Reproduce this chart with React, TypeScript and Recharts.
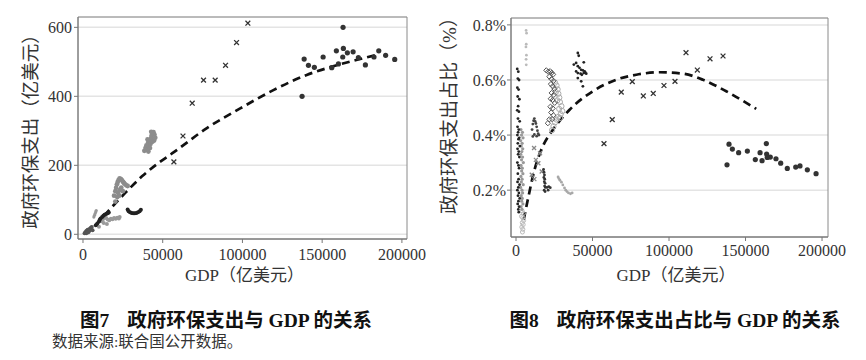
import React from 'react'
import { ComposedChart, Scatter, Line, XAxis, YAxis, CartesianGrid, ReferenceArea } from 'recharts'

type Pt = [number, number]

// ---- 图7: GDP (亿美元) vs 政府环保支出 (亿美元)
const spendUsa: Pt[] = [
  [137400, 400], [138700, 508], [141400, 490], [145100, 484], [150600, 514], [156000, 483],
  [158900, 532], [160200, 494], [163100, 600], [163300, 539], [162900, 514], [165800, 526],
  [169400, 529], [172700, 512], [177100, 491], [182500, 514], [185500, 532], [189800, 519], [195500, 507],
]
const spendChina: Pt[] = [
  [57000, 210], [62700, 285], [68500, 380], [75600, 447], [82900, 447], [89400, 490], [96300, 556], [103400, 612],
]
const spendJapan: Pt[] = [
  [38500, 242], [39200, 250], [39800, 258], [40400, 246], [40800, 265], [41300, 255], [41800, 270],
  [42300, 262], [42600, 278], [43000, 286], [43600, 292], [44200, 296], [44800, 289], [45300, 280],
  [44600, 272], [43500, 268], [42000, 250], [41000, 240], [42800, 297], [40500, 275],
]
const spendGermany: Pt[] = [
  [19500, 112], [20300, 125], [20800, 135], [21300, 145], [21800, 152], [22400, 158], [23000, 162],
  [23800, 160], [24500, 156], [25200, 152], [25800, 148], [26500, 145], [27200, 142], [28000, 140],
  [22000, 120], [23000, 128], [24000, 135], [21500, 108], [22800, 112], [25000, 125], [20300, 95],
]
const spendArc: Pt[] = [
  [28000, 72], [28600, 67], [29500, 64], [30500, 62], [31500, 61], [32500, 61], [33500, 62],
  [34500, 64], [35500, 67], [36300, 71],
]
const spendEarly: Pt[] = [
  [8000, 26], [9000, 31], [10000, 37], [10500, 42], [11000, 46], [12000, 50], [12800, 54],
  [13500, 57], [14500, 59], [15500, 61], [16200, 63],
]
const spendLow: Pt[] = [
  [11500, 38], [12500, 44], [13500, 49], [14500, 47], [15500, 43], [16500, 41], [17500, 45],
  [18500, 44], [19500, 47], [20500, 45], [21500, 48], [22500, 46], [23000, 50], [13000, 33],
  [15000, 30], [10000, 22],
]
const spendSlash: Pt[] = [[6800, 50], [7200, 55], [7600, 60], [8000, 65], [8300, 69]]
const spendOrigin: Pt[] = [
  [1000, 3], [1500, 6], [2000, 9], [2500, 11], [3000, 13], [3500, 7], [4000, 15], [4500, 17],
  [5000, 19], [2000, 3], [3000, 5], [4000, 10], [5500, 21], [6000, 12],
]
const spendTrend: Pt[] = [
  [7700, 25], [16000, 68], [26500, 120], [37000, 168], [47400, 207], [57000, 238], [77700, 308],
  [98600, 365], [119400, 418], [140300, 462], [159100, 490], [172000, 506], [186000, 522],
]
const spendTicks = [0, 200, 400, 600]

// ---- 图8: GDP (亿美元) vs 政府环保支出占比 (%)
const shareUsa: Pt[] = [
  [139200, 0.367], [137900, 0.292], [141400, 0.349], [145500, 0.336], [151200, 0.342], [156400, 0.311],
  [159500, 0.336], [160800, 0.307], [163600, 0.369], [163800, 0.331], [164200, 0.319], [166200, 0.32],
  [169900, 0.314], [173000, 0.298], [177300, 0.279], [182800, 0.284], [185600, 0.288], [190400, 0.274], [196100, 0.26],
]
const shareChina: Pt[] = [
  [57500, 0.369], [62900, 0.456], [68800, 0.556], [76000, 0.594], [83200, 0.542], [89700, 0.551],
  [96700, 0.58], [103900, 0.595], [111100, 0.699], [118500, 0.636], [126800, 0.677], [135300, 0.687],
]
const shareJapan: Pt[] = [
  [40400, 0.698], [41000, 0.688], [44300, 0.664], [39300, 0.662], [37800, 0.656], [40400, 0.65],
  [41500, 0.644], [42600, 0.637], [43700, 0.635], [44800, 0.631], [39300, 0.631], [40400, 0.625],
  [42200, 0.623], [43000, 0.619], [44300, 0.625], [45200, 0.628], [45900, 0.623], [40400, 0.607],
  [42600, 0.595], [43700, 0.577],
]
const shareDiamond: Pt[] = [
  [19800, 0.635], [21000, 0.63], [22300, 0.632], [23400, 0.626], [24300, 0.62], [21800, 0.612],
  [23200, 0.603], [24500, 0.597], [22800, 0.585], [24000, 0.577], [25100, 0.568], [23300, 0.553],
  [24700, 0.546], [22700, 0.532], [24000, 0.527], [25300, 0.517], [22500, 0.503], [24000, 0.497],
  [23000, 0.482], [24400, 0.472], [21800, 0.457], [20800, 0.443], [23600, 0.458],
]
const shareRing: Pt[] = [
  [25500, 0.59], [26500, 0.58], [27200, 0.566], [26000, 0.556], [27700, 0.55], [28300, 0.536],
  [27000, 0.526], [28700, 0.52], [29700, 0.505], [28200, 0.495], [30300, 0.487], [29200, 0.476],
  [27600, 0.466], [26500, 0.456], [25500, 0.446], [24500, 0.432], [23600, 0.418], [28800, 0.462],
]
const shareUk: Pt[] = [
  [27500, 0.248], [28000, 0.242], [28700, 0.236], [29700, 0.229], [30600, 0.219], [31700, 0.208],
  [32500, 0.2], [33300, 0.195], [34300, 0.19], [35600, 0.187], [36700, 0.19],
]
const shareMid: Pt[] = [
  [18000, 0.275], [18300, 0.265], [18600, 0.255], [18200, 0.246], [18800, 0.24], [18500, 0.231],
  [19000, 0.225], [18700, 0.215], [19200, 0.21], [18400, 0.2], [19000, 0.195], [20300, 0.21],
  [21400, 0.213], [22400, 0.209], [21000, 0.2],
]
const shareSmall: Pt[] = [
  [10500, 0.42], [11000, 0.44], [11500, 0.452], [12000, 0.46], [12500, 0.45], [13000, 0.442],
  [13500, 0.43], [14000, 0.416], [14500, 0.405], [15000, 0.4], [12000, 0.402], [11000, 0.395], [13500, 0.396],
]
const shareSmallX: Pt[] = [
  [10300, 0.256], [11800, 0.353], [14600, 0.298], [15700, 0.334], [16800, 0.268], [13000, 0.31], [12000, 0.24],
]
const shareHigh: Pt[] = [
  [6600, 0.78], [6900, 0.77], [6700, 0.73], [6500, 0.72], [6800, 0.69], [6600, 0.675], [6700, 0.655],
]
const shareDarkCol: Pt[] = [
  [800, 0.64], [1500, 0.63], [1200, 0.605], [2000, 0.6], [900, 0.572], [1700, 0.565], [1100, 0.54],
  [2200, 0.53], [1400, 0.505], [800, 0.49], [1900, 0.485], [1300, 0.46], [2400, 0.45], [1000, 0.43],
  [1800, 0.42], [1400, 0.41], [900, 0.4], [2100, 0.39], [1600, 0.385], [1200, 0.37], [2500, 0.36],
  [1000, 0.35], [1800, 0.34], [1400, 0.33], [2200, 0.32], [900, 0.3], [1600, 0.29], [2000, 0.28],
  [1200, 0.26], [1700, 0.24], [1000, 0.23], [2300, 0.22], [1500, 0.21], [900, 0.2], [1900, 0.19],
  [1300, 0.18], [2400, 0.17], [1600, 0.16], [1100, 0.15], [2000, 0.14], [1500, 0.13], [1800, 0.12],
]
const shareGrayCol: Pt[] = [
  [3200, 0.42], [4200, 0.41], [3600, 0.4], [4600, 0.39], [3000, 0.38], [4000, 0.37], [3400, 0.36],
  [4400, 0.35], [3800, 0.34], [3100, 0.33], [4300, 0.32], [3600, 0.31], [4800, 0.3], [3300, 0.29],
  [4100, 0.28], [3700, 0.27], [4500, 0.26], [3200, 0.25], [4000, 0.24], [3500, 0.23], [4700, 0.22],
  [3000, 0.21], [3900, 0.2], [4300, 0.19], [3400, 0.18], [4100, 0.17], [3700, 0.16], [4500, 0.15],
  [3300, 0.14], [3900, 0.13],
]
const shareLight: Pt[] = [
  [4000, 0.125], [4800, 0.115], [3600, 0.105], [4400, 0.1], [5000, 0.09], [4100, 0.082],
  [4700, 0.075], [3800, 0.066], [4500, 0.058], [4200, 0.048],
]
const shareTrend: Pt[] = [
  [5000, 0.092], [7700, 0.165], [12100, 0.274], [17500, 0.359], [24100, 0.419], [35000, 0.492],
  [50200, 0.559], [65500, 0.601], [78600, 0.619], [93800, 0.628], [109100, 0.623], [122100, 0.601],
  [137400, 0.559], [157000, 0.495],
]
const shareTicks = [0.2, 0.4, 0.6, 0.8]
const gdpTicks = [0, 50000, 100000, 150000, 200000]

const toPts = (arr: Pt[]) => arr.map(([x, y]) => ({ x, y }))

const SERIF = '"Liberation Serif", "Noto Sans CJK SC", serif'
const CJK = '"Liberation Serif", "Noto Sans CJK SC", sans-serif'

const dot = (r: number, fill: string) => (p: any) => <circle cx={p.cx} cy={p.cy} r={r} fill={fill} />
const ring = (r: number, stroke: string) => (p: any) => (
  <circle cx={p.cx} cy={p.cy} r={r} fill="none" stroke={stroke} strokeWidth={1} />
)
const cross = (s: number, stroke: string) => (p: any) => (
  <path
    d={`M${p.cx - s},${p.cy - s}L${p.cx + s},${p.cy + s}M${p.cx - s},${p.cy + s}L${p.cx + s},${p.cy - s}`}
    stroke={stroke}
    strokeWidth={1.3}
  />
)
const diamond = (s: number, stroke: string) => (p: any) => (
  <path
    d={`M${p.cx},${p.cy - s}L${p.cx + s},${p.cy}L${p.cx},${p.cy + s}L${p.cx - s},${p.cy}Z`}
    fill="none"
    stroke={stroke}
    strokeWidth={1}
  />
)

type Layer = { data: Pt[]; shape: (p: any) => React.ReactElement }

function Panel(props: {
  width: number
  margin: { top: number; right: number; bottom: number; left: number }
  yWidth: number
  xDomain: [number, number]
  yDomain: [number, number]
  yTicks: number[]
  yFmt: (v: number) => string
  yGap: number
  xGap: number
  layers: Layer[]
  trend: Pt[]
}) {
  const { xDomain, yDomain } = props
  return (
    <ComposedChart width={props.width} height={290} margin={props.margin}>
      <CartesianGrid horizontal vertical={false} stroke="#e4e4e4" strokeWidth={1.5} />
      <ReferenceArea x1={xDomain[0]} x2={xDomain[1]} y1={yDomain[0]} y2={yDomain[1]} fill="none" stroke="#8a8a8a" strokeOpacity={1} />
      <XAxis
        type="number"
        dataKey="x"
        domain={xDomain}
        ticks={gdpTicks}
        allowDataOverflow
        height={30}
        stroke="#777"
        tickSize={4}
        tickMargin={props.xGap}
        tick={{ fill: '#333', fontSize: 16, fontFamily: SERIF }}
      />
      <YAxis
        type="number"
        dataKey="y"
        domain={yDomain}
        ticks={props.yTicks}
        allowDataOverflow
        width={props.yWidth}
        stroke="#777"
        tickSize={4}
        tickMargin={props.yGap}
        tickFormatter={props.yFmt}
        tick={{ fill: '#333', fontSize: 16, fontFamily: SERIF }}
      />
      {props.layers.map((l, i) => (
        <Scatter key={i} data={toPts(l.data)} shape={l.shape} isAnimationActive={false} />
      ))}
      <Line
        data={toPts(props.trend)}
        dataKey="y"
        type="monotone"
        stroke="#111"
        strokeWidth={2.7}
        strokeDasharray="8 5"
        dot={false}
        activeDot={false}
        isAnimationActive={false}
      />
    </ComposedChart>
  )
}

const abs = (left: number, top: number, extra: React.CSSProperties = {}): React.CSSProperties => ({
  position: 'absolute',
  left,
  top,
  whiteSpace: 'nowrap',
  lineHeight: 1,
  ...extra,
})

export default function App() {
  const spendLayers: Layer[] = [
    { data: spendOrigin, shape: dot(2, '#555') },
    { data: spendSlash, shape: dot(1.6, '#999') },
    { data: spendLow, shape: dot(2, '#9a9a9a') },
    { data: spendEarly, shape: dot(2, '#222') },
    { data: spendArc, shape: dot(2, '#222') },
    { data: spendGermany, shape: dot(2.4, '#8c8c8c') },
    { data: spendJapan, shape: dot(2.4, '#8c8c8c') },
    { data: spendChina, shape: cross(2.4, '#333') },
    { data: spendUsa, shape: dot(2.6, '#333') },
  ]
  const shareLayers: Layer[] = [
    { data: shareLight, shape: ring(2, '#bbb') },
    { data: shareGrayCol, shape: dot(1.6, '#999') },
    { data: shareDarkCol, shape: dot(1.4, '#222') },
    { data: shareHigh, shape: dot(1.4, '#bbb') },
    { data: shareSmallX, shape: cross(2, '#888') },
    { data: shareSmall, shape: dot(1.4, '#444') },
    { data: shareMid, shape: dot(1.4, '#333') },
    { data: shareUk, shape: dot(1.4, '#a8a8a8') },
    { data: shareRing, shape: ring(2.6, '#aaa') },
    { data: shareDiamond, shape: diamond(2.6, '#555') },
    { data: shareJapan, shape: dot(1.4, '#222') },
    { data: shareChina, shape: cross(2.4, '#333') },
    { data: shareUsa, shape: dot(2.6, '#333') },
  ]

  const caption: React.CSSProperties = { fontSize: 19.5, fontWeight: 700, color: '#111', transform: 'translate(-50%, -50%)' }

  return (
    <div style={{ position: 'absolute', left: 0, top: 0, width: 866, height: 360, background: '#fff', color: '#333', fontFamily: CJK }}>
      <div style={{ position: 'absolute', left: 0, top: 0 }}>
        <Panel
          width={430}
          margin={{ top: 17, right: 23, bottom: 21, left: 0 }}
          yWidth={78}
          xDomain={[-3130, 203200]}
          yDomain={[-13.6, 630]}
          yTicks={spendTicks}
          yFmt={(v) => String(v)}
          yGap={2}
          xGap={6}
          layers={spendLayers}
          trend={spendTrend}
        />
      </div>
      <div style={{ position: 'absolute', left: 430, top: 0 }}>
        <Panel
          width={436}
          margin={{ top: 18, right: 38, bottom: 23, left: 0 }}
          yWidth={81}
          xDomain={[-3270, 203900]}
          yDomain={[0.03, 0.825]}
          yTicks={shareTicks}
          yFmt={(v) => `${v.toFixed(1)}%`}
          yGap={1}
          xGap={4}
          layers={shareLayers}
          trend={shareTrend}
        />
      </div>

      {/* axis titles */}
      <div style={abs(30.5, 126.5, { fontSize: 18.5, transform: 'translate(-50%, -50%) rotate(-90deg)' })}>
        政府环保支出（亿美元）
      </div>
      <div style={abs(244.5, 275, { fontSize: 17, transform: 'translate(-50%, -50%)' })}>GDP（亿美元）</div>
      <div style={abs(448.5, 110.5, { fontSize: 19, transform: 'translate(-50%, -50%) rotate(-90deg)' })}>
        政府环保支出占比（%）
      </div>
      <div style={abs(676, 275, { fontSize: 17, transform: 'translate(-50%, -50%)' })}>GDP（亿美元）</div>

      {/* captions */}
      <div style={abs(226, 321, caption)}>
        <span style={{ marginRight: 18 }}>图7</span>政府环保支出与 GDP 的关系
      </div>
      <div style={abs(675, 321, caption)}>
        <span style={{ marginRight: 18 }}>图8</span>政府环保支出占比与 GDP 的关系
      </div>
      <div style={abs(52, 342, { fontSize: 15.5, transform: 'translateY(-50%)' })}>数据来源:联合国公开数据。</div>
    </div>
  )
}
